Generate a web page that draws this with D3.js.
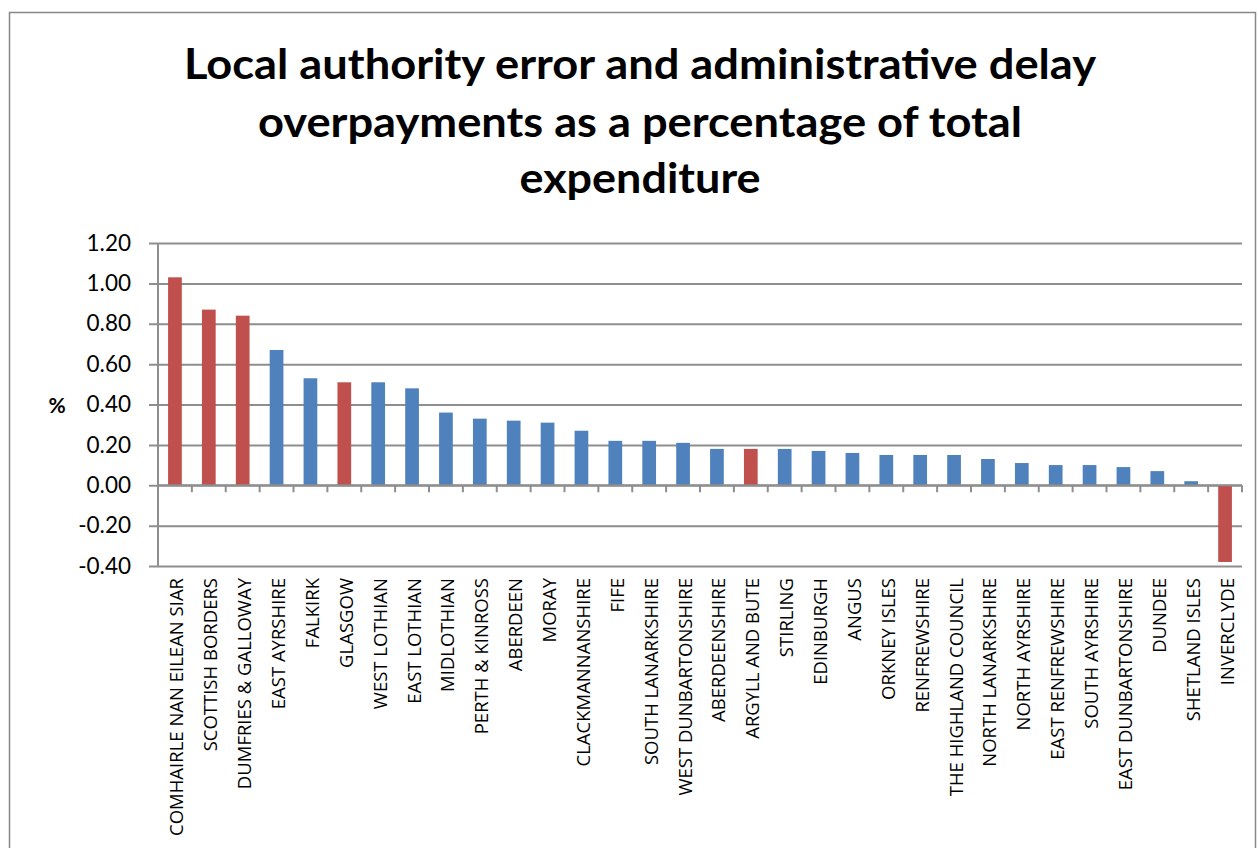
<!DOCTYPE html>
<html>
<head>
<meta charset="utf-8">
<script src="https://cdn.jsdelivr.net/npm/d3@7"></script>
<style>
  html, body { margin: 0; padding: 0; background: #fff; }
  svg { display: block; }
</style>
</head>
<body>
<svg id="chart" width="1258" height="848"></svg>
<script>
// Local authority overpayments, % of total expenditure
const authorities = [
  "COMHAIRLE NAN EILEAN SIAR", "SCOTTISH BORDERS", "DUMFRIES & GALLOWAY",
  "EAST AYRSHIRE", "FALKIRK", "GLASGOW", "WEST LOTHIAN", "EAST LOTHIAN",
  "MIDLOTHIAN", "PERTH & KINROSS", "ABERDEEN", "MORAY", "CLACKMANNANSHIRE",
  "FIFE", "SOUTH LANARKSHIRE", "WEST DUNBARTONSHIRE", "ABERDEENSHIRE",
  "ARGYLL AND BUTE", "STIRLING", "EDINBURGH", "ANGUS", "ORKNEY ISLES",
  "RENFREWSHIRE", "THE HIGHLAND COUNCIL", "NORTH LANARKSHIRE",
  "NORTH AYRSHIRE", "EAST RENFREWSHIRE", "SOUTH AYRSHIRE",
  "EAST DUNBARTONSHIRE", "DUNDEE", "SHETLAND ISLES", "INVERCLYDE"
];
const overpaymentPct = [
  1.03, 0.87, 0.84, 0.67, 0.53, 0.51, 0.51, 0.48, 0.36, 0.33, 0.32, 0.31,
  0.27, 0.22, 0.22, 0.21, 0.18, 0.18, 0.18, 0.17, 0.16, 0.15, 0.15, 0.15,
  0.13, 0.11, 0.10, 0.10, 0.09, 0.07, 0.02, -0.38
];
// Authorities drawn in the highlight colour
const highlighted = [
  "COMHAIRLE NAN EILEAN SIAR", "SCOTTISH BORDERS", "DUMFRIES & GALLOWAY",
  "GLASGOW", "ARGYLL AND BUTE", "INVERCLYDE"
];
const yTicks = [1.2, 1.0, 0.8, 0.6, 0.4, 0.2, 0.0, -0.2, -0.4];
const titleLines = [
  "Local authority error and administrative delay",
  "overpayments as a percentage of total",
  "expenditure"
];
const yAxisLabel = "%";

const rows = authorities.map((name, i) => ({
  name, value: overpaymentPct[i], hi: highlighted.includes(name)
}));

const svg = d3.select("#chart");
const plot = { left: 158, right: 1242, top: 243, bottom: 566 };
const gridColor = "#8e8e8e";
const labelFont = "'Open Sans', 'DejaVu Sans', sans-serif";
const titleFont = "Lato, 'Open Sans', sans-serif";

// Outer chart frame
svg.append("rect")
  .attr("x", 9.5).attr("y", 12.5)
  .attr("width", 1246).attr("height", 860)
  .attr("fill", "none").attr("stroke", "#888").attr("stroke-width", 1.5);

// Title, each line fitted to its width
const titleWidths = [912, 764, 241];
const titleBaselines = [79, 136.5, 193];
titleLines.forEach((t, i) => {
  svg.append("text")
    .attr("x", 640).attr("y", titleBaselines[i])
    .attr("text-anchor", "middle")
    .attr("font-family", titleFont)
    .attr("font-weight", 700)
    .attr("font-size", 42)
    .attr("textLength", titleWidths[i])
    .attr("lengthAdjust", "spacingAndGlyphs")
    .attr("fill", "#000")
    .text(t);
});

const x = d3.scaleBand()
  .domain(authorities)
  .range([plot.left, plot.right])
  .padding(0);
const y = d3.scaleLinear()
  .domain([-0.4, 1.2])
  .range([plot.bottom, plot.top]);

// Horizontal gridlines with left ticks
const yAxis = d3.axisLeft(y)
  .tickValues(yTicks)
  .tickFormat(d => d.toFixed(2))
  .tickSize(-(plot.right - plot.left))
  .tickPadding(0);
const gy = svg.append("g")
  .attr("transform", `translate(${plot.left},0)`)
  .call(yAxis);
gy.select(".domain").remove();
gy.selectAll(".tick line")
  .attr("x1", -9)
  .attr("stroke", gridColor).attr("stroke-width", 2);
gy.selectAll(".tick text")
  .attr("x", -27)
  .attr("font-family", titleFont)
  .attr("font-size", 22.5)
  .attr("fill", "#000");

// Vertical value axis line
svg.append("line")
  .attr("x1", plot.left).attr("x2", plot.left)
  .attr("y1", y(1.2)).attr("y2", y(-0.4))
  .attr("stroke", gridColor).attr("stroke-width", 2);

// Axis label
svg.append("text")
  .attr("x", 57).attr("y", y(0.4))
  .attr("text-anchor", "middle").attr("dominant-baseline", "central")
  .attr("font-family", titleFont).attr("font-weight", 700)
  .attr("font-size", 21).attr("fill", "#000")
  .text(yAxisLabel);

// Bars
const barW = x.bandwidth() * 0.405;
svg.append("g").selectAll("rect")
  .data(rows)
  .join("rect")
  .attr("x", d => x(d.name) + (x.bandwidth() - barW) / 2)
  .attr("y", d => y(Math.max(0, d.value)))
  .attr("width", barW)
  .attr("height", d => Math.abs(y(d.value) - y(0)))
  .attr("fill", d => d.hi ? "#c0504d" : "#4f81bd");

// Category axis at zero with boundary ticks
svg.append("line")
  .attr("x1", plot.left).attr("x2", plot.right)
  .attr("y1", y(0)).attr("y2", y(0))
  .attr("stroke", gridColor).attr("stroke-width", 2);
const boundaries = authorities.map(a => x(a)).concat([plot.right]);
svg.append("g").selectAll("line")
  .data(boundaries)
  .join("line")
  .attr("x1", d => d).attr("x2", d => d)
  .attr("y1", y(0)).attr("y2", y(0) + 7)
  .attr("stroke", gridColor).attr("stroke-width", 2);

// Rotated category labels below the plot
svg.append("g").selectAll("text")
  .data(authorities)
  .join("text")
  .attr("transform", d => `translate(${x(d) + x.bandwidth() / 2 + 1},${plot.bottom + 12}) rotate(-90)`)
  .attr("text-anchor", "end")
  .attr("dominant-baseline", "central")
  .attr("font-family", labelFont)
  .attr("font-size", 18.5)
  .attr("fill", "#000")
  .text(d => d);
</script>
</body>
</html>
